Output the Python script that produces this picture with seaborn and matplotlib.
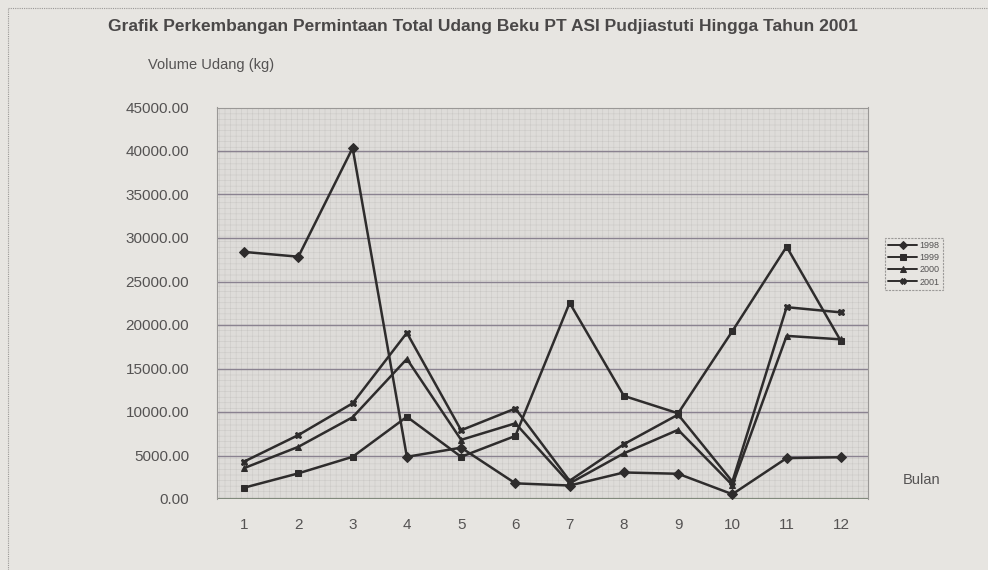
import numpy as np
import pandas as pd
import matplotlib
matplotlib.use('Agg')
import matplotlib.pyplot as plt
from matplotlib.patches import Rectangle
import seaborn as sns

# ------------------------------------------------------------
# DATA
# ------------------------------------------------------------
months = [1, 2, 3, 4, 5, 6, 7, 8, 9, 10, 11, 12]
years = ['1998', '1999', '2000', '2001']
v1998 = [28400, 27850, 40350, 4850, 5900, 1800, 1550, 3050, 2900, 550, 4700, 4800]
v1999 = [1300, 2950, 4850, 9450, 4850, 7250, 22550, 11850, 9850, 19300, 29000, 18150]
v2000 = [3550, 6000, 9400, 16100, 6800, 8700, 1800, 5250, 7950, 1600, 18750, 18350]
v2001 = [4300, 7350, 11000, 19100, 7900, 10400, 2100, 6300, 9700, 2000, 22050, 21450]
yticks = [0, 5000, 10000, 15000, 20000, 25000, 30000, 35000, 40000, 45000]

df = pd.DataFrame({
    'Bulan': months * 4,
    'Volume': v1998 + v1999 + v2000 + v2001,
    'Tahun': [y for y in years for _ in months],
})

sns.set_style('white')
plt.rcParams['font.family'] = ['Liberation Sans', 'DejaVu Sans']
plt.rcParams['hatch.linewidth'] = 0.35

bg = '#e7e5e1'
ink = '#2e2c2c'
txt = '#555353'

fig = plt.figure(figsize=(9.88, 5.70), dpi=100, facecolor=bg)
ax = fig.add_axes([217 / 988, 1 - 499 / 570, 651 / 988, 391.5 / 570])
ax.set_facecolor('#dedcd9')

# fine dotted background texture of the plot area
ax.add_patch(Rectangle((0, 0), 1, 1, transform=ax.transAxes, facecolor='#dedcd9',
                       edgecolor='#c9c7c4', hatch='+++', lw=0, zorder=0))

sns.lineplot(data=df, x='Bulan', y='Volume', hue='Tahun', style='Tahun',
             palette=[ink] * 4, markers=['D', 's', '^', 'X'], dashes=False,
             markersize=5, linewidth=1.8, markeredgecolor=ink, ax=ax, zorder=3)

ax.set_xlim(0.5, 12.5)
ax.set_ylim(0, 45000)
ax.set_yticks(yticks)
ax.set_yticklabels([f'{v:.2f}' for v in yticks])
ax.set_xticks(months)
ax.tick_params(axis='both', labelsize=11, colors=txt, length=0)
ax.tick_params(axis='y', pad=20)
ax.tick_params(axis='x', pad=14)
for lbl in ax.get_xticklabels() + ax.get_yticklabels():
    lbl.set_color(txt)

for v in yticks[1:]:
    ax.axhline(v, color='#8a8290', lw=1.0, zorder=1)
ax.axhline(0, color='#6f7a6a', lw=1.2, zorder=2)

for side in ['top', 'right', 'left']:
    ax.spines[side].set_color('#9a9896')
    ax.spines[side].set_linestyle((0, (1, 1)))
    ax.spines[side].set_linewidth(0.8)
ax.spines['bottom'].set_visible(False)

ax.set_xlabel('')
ax.set_ylabel('')

handles, labels = ax.get_legend_handles_labels()
leg = ax.legend(handles, labels, loc='upper left', bbox_to_anchor=(880 / 988, 1 - 233 / 570),
                bbox_transform=fig.transFigure, fontsize=6.5, frameon=True,
                handlelength=3.2, handletextpad=0.3, labelspacing=0.35,
                borderpad=0.4, fancybox=False)
leg.get_frame().set_edgecolor('#8a8886')
leg.get_frame().set_linestyle((0, (2, 1)))
leg.get_frame().set_facecolor(bg)
leg.get_frame().set_linewidth(0.8)
for t in leg.get_texts():
    t.set_color(txt)
for h in leg.legend_handles:
    h.set_markersize(4)
    h.set_linewidth(1.4)

fig.text(108 / 988, 1 - 27 / 570,
         'Grafik Perkembangan Permintaan Total Udang Beku PT ASI Pudjiastuti Hingga Tahun 2001',
         fontsize=12.5, fontweight='bold', color='#4a4848', va='center', ha='left')
fig.text(148 / 988, 1 - 65 / 570, 'Volume Udang (kg)', fontsize=10.5, color=txt,
         va='center', ha='left')
fig.text(903 / 988, 1 - 480 / 570, 'Bulan', fontsize=10.5, color=txt, va='center', ha='left')

# dotted frame round the whole chart
fig.add_artist(plt.Line2D([8 / 988, 988 / 988], [1 - 8 / 570, 1 - 8 / 570],
                          transform=fig.transFigure, color='#9a9896', lw=0.8,
                          linestyle=(0, (1, 1))))
fig.add_artist(plt.Line2D([8 / 988, 8 / 988], [0, 1 - 8 / 570],
                          transform=fig.transFigure, color='#9a9896', lw=0.8,
                          linestyle=(0, (1, 1))))

plt.savefig('out.png', dpi=100, facecolor=bg)
